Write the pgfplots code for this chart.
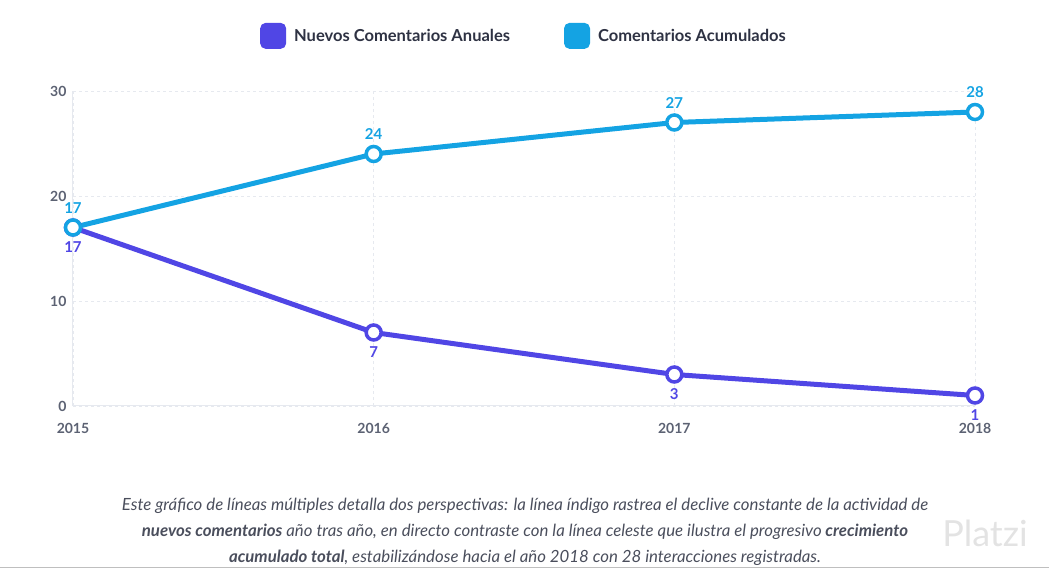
\documentclass[border=0pt]{standalone}
\usepackage{fontspec}
\setmainfont{Lato}
\usepackage{pgfplots}
\pgfplotsset{compat=1.18}
\definecolor{indigo}{HTML}{5046E5}
\definecolor{celeste}{HTML}{14A3E3}
\definecolor{ticktxt}{HTML}{5C6273}
\definecolor{gridc}{HTML}{E6E9EF}
\definecolor{legtxt}{HTML}{2E3243}
\definecolor{captxt}{HTML}{4A4E5C}
\begin{document}
\begin{tikzpicture}
\path[use as bounding box] (0,0) rectangle (1049pt,569pt);
\begin{axis}[
  at={(73pt,163pt)}, anchor=south west,
  scale only axis, width=902pt, height=315pt,
  xmin=2015, xmax=2018, ymin=0, ymax=30,
  xtick={2015,2016,2017,2018}, ytick={0,10,20,30},
  clip=false,
  /pgf/number format/1000 sep={},
  /pgf/number format/assume math mode=true,
  major tick length=0pt,
  axis x line*=bottom, axis y line*=left,
  axis line style={draw=gridc, line width=1pt, -},
  grid=major,
  major grid style={draw=gridc, dashed, line width=0.8pt},
  tick label style={font=\fontsize{14}{16}\selectfont\bfseries, text=ticktxt},
  yticklabel style={xshift=-3pt},
  xticklabel style={yshift=-14pt},
  legend style={at={(0.5,1.175)}, anchor=center, draw=none, fill=none,
    legend columns=2, font=\fontsize{16.5}{19}\selectfont\bfseries, text=legtxt,
    /tikz/every even column/.append style={column sep=52pt}},
  legend cell align=left,
  nodes near coords,
  nodes near coords style={font=\fontsize{15}{17}\selectfont\bfseries},
]
\addplot[indigo, line width=5pt, mark=*, mark size=7.5pt,
  mark options={fill=white, draw=indigo, line width=3.5pt},
  every node near coord/.append style={anchor=north, yshift=-9pt, text=indigo},
  legend image code/.code={\fill[indigo, rounded corners=3.5pt] (0pt,-10.5pt) rectangle (21pt,10.5pt);}]
  coordinates {(2015,17) (2016,7) (2017,3) (2018,1)};
\addlegendentry{\hspace{6pt}Nuevos Comentarios Anuales}
\addplot[celeste, line width=5pt, mark=*, mark size=7.5pt,
  mark options={fill=white, draw=celeste, line width=3.5pt},
  every node near coord/.append style={anchor=south, yshift=9pt, text=celeste},
  legend image code/.code={\fill[celeste, rounded corners=3.5pt] (0pt,-10.5pt) rectangle (21pt,10.5pt);}]
  coordinates {(2015,17) (2016,24) (2017,27) (2018,28)};
\addlegendentry{\hspace{6pt}Comentarios Acumulados}
\end{axis}
\node[text=gray!22, font=\fontsize{36}{38}\selectfont] at (985pt,36pt) {Platzi};
\node[align=center, text=captxt, font=\fontsize{16.8}{26}\selectfont\itshape] at (525pt,37pt)
 {Este gráfico de líneas múltiples detalla dos perspectivas: la línea índigo rastrea el declive constante de la actividad de\\
 {\bfseries nuevos comentarios} año tras año, en directo contraste con la línea celeste que ilustra el progresivo {\bfseries crecimiento}\\
 {\bfseries acumulado total}, estabilizándose hacia el año 2018 con 28 interacciones registradas.};
\draw[gray!50, line width=1pt] (0pt,1pt) -- (1049pt,1pt);
\end{tikzpicture}
\end{document}
